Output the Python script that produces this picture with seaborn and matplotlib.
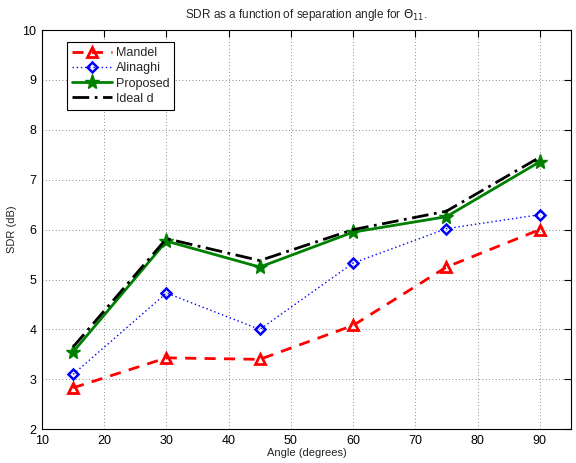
import numpy as np
import pandas as pd
import matplotlib
matplotlib.use("Agg")
import matplotlib.pyplot as plt
import seaborn as sns

angles = [15, 30, 45, 60, 75, 90]
mandel = [2.83, 3.43, 3.40, 4.08, 5.25, 6.00]
alinaghi = [3.10, 4.73, 4.00, 5.33, 6.02, 6.30]
proposed = [3.55, 5.77, 5.25, 5.95, 6.26, 7.36]
ideal = [3.65, 5.82, 5.38, 6.00, 6.37, 7.45]

series_names = ['Mandel', 'Alinaghi', 'Proposed', 'Ideal d']

sns.set_theme(style="white")
plt.rcParams['font.family'] = ['Liberation Sans', 'DejaVu Sans']
plt.rcParams['mathtext.fontset'] = 'dejavusans'

df = pd.DataFrame({
    'angle': angles * 4,
    'sdr': mandel + alinaghi + proposed + ideal,
    'method': sum([[n] * len(angles) for n in series_names], []),
})

styles = {
    'Mandel': dict(color='red', linestyle=(0, (4, 3)), marker='^', markersize=7,
                   markerfacecolor='none', markeredgewidth=2, linewidth=2),
    'Alinaghi': dict(color='blue', linestyle=(0, (1, 2)), marker='D', markersize=5,
                     markerfacecolor='none', markeredgewidth=1.8, linewidth=1),
    'Proposed': dict(color='green', linestyle='-', marker='*', markersize=11,
                     markeredgewidth=1, linewidth=2),
    'Ideal d': dict(color='black', linestyle=(0, (6, 2, 1, 2)), marker=None, linewidth=2),
}

fig = plt.figure(figsize=(5.76, 4.63), dpi=100)
ax = fig.add_axes([0.073, 0.073, 0.918, 0.862])

for name in series_names:
    sub = df[df['method'] == name]
    st = styles[name]
    sns.lineplot(data=sub, x='angle', y='sdr', ax=ax, label=name, color=st['color'],
                 linestyle=st['linestyle'], linewidth=st['linewidth'],
                 marker=st.get('marker'), markersize=st.get('markersize', 6),
                 markerfacecolor=st.get('markerfacecolor', st['color']),
                 markeredgecolor=st['color'], markeredgewidth=st.get('markeredgewidth', 1))

ax.set_xlim(10, 95)
ax.set_ylim(2, 10)
ax.set_xticks(range(10, 91, 10))
ax.set_yticks(range(2, 11))
ax.grid(True, color='#666666', linestyle=(0, (1, 3)), linewidth=0.6)
ax.tick_params(direction='in', top=True, right=True, length=5, width=0.8,
               labelsize=9, colors='black', pad=4)
for s in ax.spines.values():
    s.set_color('black')
    s.set_linewidth(0.8)
ax.set_xlabel('Angle (degrees)', fontsize=8, labelpad=1)
ax.set_ylabel('SDR (dB)', fontsize=8, labelpad=4)
ax.set_title(r'SDR as a function of separation angle for $\Theta_{11}$.', fontsize=8.5, pad=9)

leg = ax.legend(loc='upper left', bbox_to_anchor=(0.035, 0.985), fontsize=9,
                frameon=True, fancybox=False, framealpha=1, handlelength=3.2,
                borderpad=0.4, labelspacing=0.25, handletextpad=0.3)
leg.get_frame().set_edgecolor('black')
leg.get_frame().set_linewidth(0.8)

fig.savefig('out.png', dpi=100)
